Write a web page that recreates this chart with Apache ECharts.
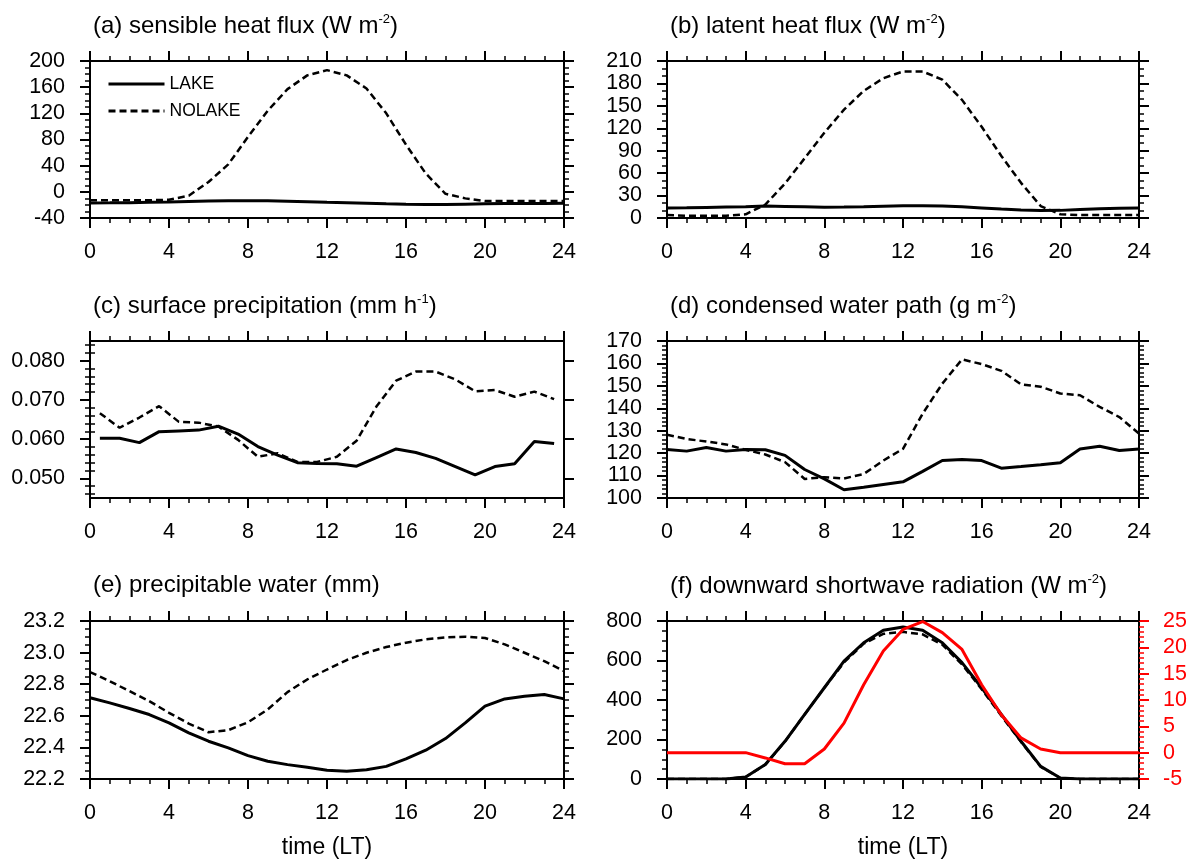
<!DOCTYPE html>
<html>
<head>
<meta charset="utf-8" />
<title>LAKE vs NOLAKE diurnal cycle</title>
<style>
  html, body { margin: 0; background: #fff; }
  #chart-container { width: 1196px; height: 860px; }
</style>
</head>
<body>
<div id="chart-container"></div>
<script src="https://cdn.jsdelivr.net/npm/echarts@6/dist/echarts.min.js"></script>
<script>
// ---- data ----
var hours = [0, 1, 2, 3, 4, 5, 6, 7, 8, 9, 10, 11, 12, 13, 14, 15, 16, 17, 18, 19, 20, 21, 22, 23, 24];
var halfHours = [0.5, 1.5, 2.5, 3.5, 4.5, 5.5, 6.5, 7.5, 8.5, 9.5, 10.5, 11.5, 12.5, 13.5, 14.5, 15.5, 16.5, 17.5, 18.5, 19.5, 20.5, 21.5, 22.5, 23.5];

// (a) sensible heat flux
var shLake = [-17, -16.8, -16.5, -16, -15.5, -14.8, -14.2, -13.8, -13.6, -13.8, -14.3, -15, -15.8, -16.5, -17.3, -18.2, -19, -19.4, -19.3, -18.8, -18.3, -18, -17.8, -17.7, -17.6];
var shNolake = [-13, -13, -13, -13, -12, -6, 15, 42, 84, 124, 157, 178, 186, 178, 158, 120, 72, 28, -3, -10, -14, -14, -14, -14, -14];
// (b) latent heat flux
var lhLake = [13.5, 13.8, 14.2, 14.6, 15, 16, 15.5, 15, 14.5, 14.6, 15, 15.8, 16.5, 16.5, 16, 15, 13.5, 12, 10.8, 10, 10.2, 11.5, 12.5, 13, 13.3];
var lhNolake = [4, 3, 3, 3, 5, 18, 46, 80, 114, 145, 170, 187, 196, 196, 185, 158, 122, 83, 47, 16, 5, 4, 4, 4, 4];
// (c) surface precipitation (half-hour points)
var prLake = [0.0602, 0.0602, 0.0591, 0.0619, 0.0621, 0.0623, 0.0633, 0.0613, 0.0581, 0.0559, 0.0540, 0.0538, 0.0537, 0.0531, 0.0553, 0.0575, 0.0566, 0.0551, 0.0530, 0.0509, 0.0530, 0.0537, 0.0594, 0.0589];
var prNolake = [0.0666, 0.0629, 0.0655, 0.0684, 0.0644, 0.0642, 0.0632, 0.0598, 0.0555, 0.0564, 0.0542, 0.0542, 0.0555, 0.0596, 0.0683, 0.0749, 0.0772, 0.0772, 0.0752, 0.0722, 0.0725, 0.0708, 0.0721, 0.0702];
// (d) condensed water path
var cwLake = [121.6, 120.9, 122.5, 120.9, 121.6, 121.5, 119, 112.7, 108.5, 103.7, 104.8, 106, 107.2, 111.9, 116.7, 117.2, 116.7, 113.3, 114, 114.8, 115.7, 121.8, 123.1, 121.2, 121.9];
var cwNolake = [128.2, 126.3, 125.2, 123.9, 121.5, 119.4, 116, 108.5, 109.3, 108.7, 110.7, 116.7, 121.9, 137.6, 151, 161.8, 159.7, 156.7, 150.7, 149.6, 146.6, 145.8, 140.6, 136.1, 128.7];
// (e) precipitable water
var pwLake = [22.714, 22.682, 22.646, 22.608, 22.555, 22.492, 22.439, 22.397, 22.348, 22.312, 22.291, 22.274, 22.255, 22.249, 22.259, 22.280, 22.327, 22.382, 22.456, 22.555, 22.661, 22.707, 22.724, 22.735, 22.707];
var pwNolake = [22.877, 22.819, 22.756, 22.693, 22.619, 22.551, 22.496, 22.509, 22.559, 22.640, 22.750, 22.830, 22.893, 22.953, 22.999, 23.035, 23.063, 23.084, 23.096, 23.101, 23.092, 23.052, 22.999, 22.946, 22.883];
// (f) downward shortwave radiation, and difference (right axis, red)
var swLake = [0, 0, 0, 0, 10, 73, 191, 327, 462, 597, 690, 753, 770, 753, 690, 589, 462, 327, 191, 64, 5, 0, 0, 0, 0];
var swNolake = [0, 0, 0, 0, 10, 73, 190, 327, 462, 590, 685, 735, 745, 732, 680, 580, 455, 320, 188, 62, 5, 0, 0, 0, 0];
var swDiff = [0, 0, 0, 0, 0, -1, -2.1, -2.1, 0.7, 5.6, 12.9, 19.3, 23.4, 24.9, 22.8, 19.6, 12.9, 7.2, 2.8, 0.7, 0, 0, 0, 0, 0];

var prMajor = [0.05, 0.06, 0.07, 0.08];
var prMinor = [0.046, 0.048, 0.052, 0.054, 0.056, 0.058, 0.062, 0.064, 0.066, 0.068, 0.072, 0.074, 0.076, 0.078, 0.082, 0.084];

// ---- chart ----
var FONT = "'Liberation Sans', Arial, Helvetica, sans-serif";
var dom = document.getElementById("chart-container");
var myChart = echarts.init(dom, null, { renderer: "canvas" });

var panels = [
  { title: "(a) sensible heat flux (W m{sup|-2})", left: 90, top: 61, width: 474, height: 157, min: -40, max: 200, interval: 40, minor: 4 },
  { title: "(b) latent heat flux (W m{sup|-2})", left: 667, top: 61, width: 472, height: 157, min: 0, max: 210, interval: 30, minor: 3 },
  { title: "(c) surface precipitation (mm h{sup|-1})", left: 90, top: 341, width: 474, height: 157, min: 0.045, max: 0.085 },
  { title: "(d) condensed water path (g m{sup|-2})", left: 667, top: 341, width: 472, height: 157, min: 100, max: 170, interval: 10, minor: 5 },
  { title: "(e) precipitable water (mm)", left: 90, top: 621, width: 474, height: 158, min: 22.2, max: 23.2, interval: 0.2, minor: 4 },
  { title: "(f) downward shortwave radiation (W m{sup|-2})", left: 667, top: 621, width: 472, height: 158, min: 0, max: 800, interval: 200, minor: 4 }
];

var black = "#000";
var red = "#ff0000";
var lineW = 2;
var labelSize = 21.5;

function tickStyle(color) {
  return { show: true, inside: false, length: 10, lineStyle: { color: color || black, width: 2 } };
}
function minorStyle(n, color) {
  return { show: true, splitNumber: n, length: 5, lineStyle: { color: color || black, width: 1.5 } };
}

var grids = [], titles = [], xAxes = [], yAxes = [], series = [];

panels.forEach(function (p, i) {
  grids.push({ left: p.left, top: p.top, width: p.width, height: p.height, containLabel: false, outerBoundsMode: "none" });
  titles.push({
    text: p.title,
    left: p.left - 2,
    top: p.top - 53,
    textStyle: {
      fontFamily: FONT, fontSize: 24, fontWeight: "normal", color: black,
      rich: { sup: { fontFamily: FONT, fontSize: 13, color: black, padding: [0, 0, 13, 0] } }
    }
  });

  var bottomRow = i >= 4;
  ["bottom", "top"].forEach(function (pos) {
    xAxes.push({
      gridIndex: i, type: "value", position: pos, min: 0, max: 24, interval: 4,
      name: pos === "bottom" && bottomRow ? "time (LT)" : "",
      nameLocation: "middle", nameGap: 57,
      nameTextStyle: { fontFamily: FONT, fontSize: 23, color: black },
      axisLine: { show: true, onZero: false, lineStyle: { color: black, width: lineW } },
      axisTick: tickStyle(),
      minorTick: minorStyle(4),
      axisLabel: { show: pos === "bottom", margin: 23, fontFamily: FONT, fontSize: labelSize, color: black },
      splitLine: { show: false }
    });
  });

  ["left", "right"].forEach(function (pos) {
    var ax = {
      gridIndex: i, type: "value", position: pos, min: p.min, max: p.max,
      axisLine: { show: true, onZero: false, lineStyle: { color: black, width: lineW } },
      axisTick: tickStyle(),
      axisLabel: { show: pos === "left", margin: 25, fontFamily: FONT, fontSize: labelSize, color: black },
      splitLine: { show: false }
    };
    if (p.interval) {
      ax.interval = p.interval;
      ax.minorTick = minorStyle(p.minor);
      if (i === 4) ax.axisLabel.formatter = function (v) { return v.toFixed(1); };
    } else {
      // panel (c): major ticks do not start at the axis minimum
      ax.axisTick.customValues = prMajor;
      ax.axisLabel.customValues = prMajor;
      ax.axisLabel.formatter = function (v) { return v.toFixed(3); };
    }
    if (i === 5 && pos === "right") {
      // red difference axis
      ax.min = -5; ax.max = 25; ax.interval = 5;
      ax.axisTick = tickStyle(red);
      ax.minorTick = minorStyle(5, red);
      ax.axisLabel = { show: true, margin: 24, fontFamily: FONT, fontSize: labelSize, color: red };
    }
    yAxes.push(ax);
  });
});

// extra axes for panel (c) minor ticks
["left", "right"].forEach(function (pos) {
  yAxes.push({
    gridIndex: 2, type: "value", position: pos, min: 0.045, max: 0.085,
    axisLine: { show: false },
    axisTick: { show: true, inside: false, length: 5, customValues: prMinor, lineStyle: { color: black, width: 1.5 } },
    axisLabel: { show: false },
    splitLine: { show: false }
  });
});

function pairs(xs, ys) {
  return xs.map(function (x, k) { return [x, ys[k]]; });
}
function addLine(name, panel, xs, ys, dashed, color, yIdx) {
  series.push({
    name: name,
    type: "line",
    xAxisIndex: panel * 2,
    yAxisIndex: yIdx !== undefined ? yIdx : panel * 2,
    data: pairs(xs, ys),
    showSymbol: false,
    symbol: "none",
    silent: true,
    z: dashed ? 3 : 4,
    itemStyle: { color: color || black },
    lineStyle: { color: color || black, width: dashed ? 2.5 : 3, type: dashed ? [7, 4] : "solid" }
  });
}

addLine("LAKE", 0, hours, shLake, false);
addLine("NOLAKE", 0, hours, shNolake, true);
addLine("LAKE", 1, hours, lhLake, false);
addLine("NOLAKE", 1, hours, lhNolake, true);
addLine("LAKE", 2, halfHours, prLake, false);
addLine("NOLAKE", 2, halfHours, prNolake, true);
addLine("LAKE", 3, hours, cwLake, false);
addLine("NOLAKE", 3, hours, cwNolake, true);
addLine("LAKE", 4, hours, pwLake, false);
addLine("NOLAKE", 4, hours, pwNolake, true);
addLine("LAKE", 5, hours, swLake, false);
addLine("NOLAKE", 5, hours, swNolake, true);
addLine("LAKE-NOLAKE", 5, hours, swDiff, false, red, 11);

var option = {
  backgroundColor: "#fff",
  animation: false,
  title: titles,
  grid: grids,
  xAxis: xAxes,
  yAxis: yAxes,
  legend: {
    data: ["LAKE", "NOLAKE"],
    orient: "vertical",
    left: 102,
    top: 70,
    itemWidth: 56,
    itemHeight: 14,
    itemGap: 9,
    selectedMode: false,
    itemStyle: { opacity: 0 },
    lineStyle: { width: 3 },
    textStyle: { fontFamily: FONT, fontSize: 17.5, color: black }
  },
  series: series
};

myChart.setOption(option);
window.addEventListener("resize", myChart.resize);
</script>
</body>
</html>
